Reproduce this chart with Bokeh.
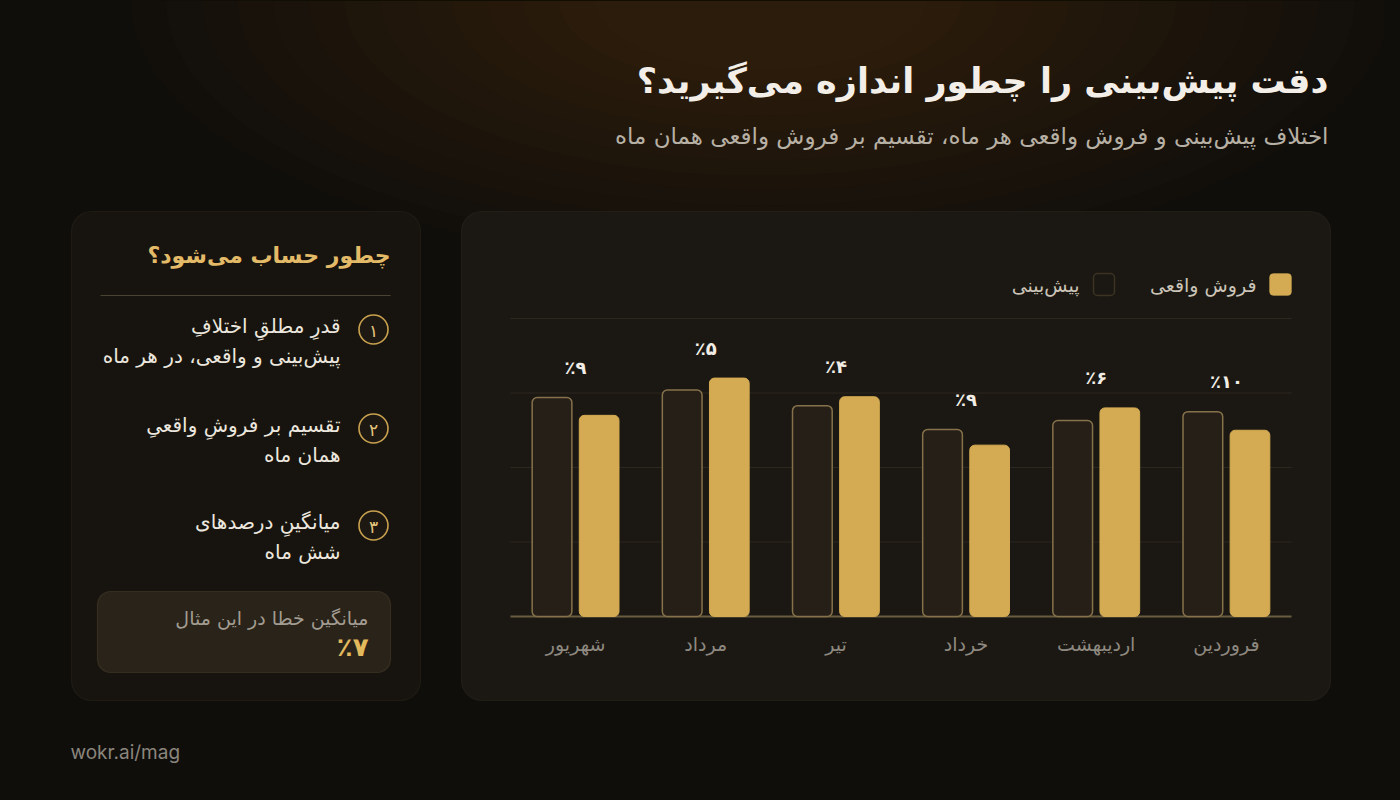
from bokeh.plotting import figure
from bokeh.models import Range1d, BoxAnnotation, ColumnDataSource
from bokeh.core.properties import value
from bokeh.transform import dodge
from bokeh.embed import file_html
from bokeh.resources import INLINE

# ---------------- data ----------------
months = ["فروردین", "اردیبهشت", "خرداد", "تیر", "مرداد", "شهریور"]
forecast = [275, 263, 251, 283, 304, 294]
actual = [250, 280, 230, 295, 320, 270]
error_labels = ["٪۱۰", "٪۶", "٪۹", "٪۴", "٪۵", "٪۹"]
grid_values = [0, 100, 200, 300, 400]
legend_labels = ["فروش واقعی", "پیش‌بینی"]

title = "دقت پیش‌بینی را چطور اندازه می‌گیرید؟"
subtitle = "اختلاف پیش‌بینی و فروش واقعی هر ماه، تقسیم بر فروش واقعی همان ماه"
side_title = "چطور حساب می‌شود؟"
step_numbers = ["۱", "۲", "۳"]
step_line1 = ["قدرِ مطلقِ اختلافِ", "تقسیم بر فروشِ واقعیِ", "میانگینِ درصدهای"]
step_line2 = ["پیش‌بینی و واقعی، در هر ماه", "همان ماه", "شش ماه"]
mean_caption = "میانگین خطا در این مثال"
mean_value = "٪۷"
footer = "wokr.ai/mag"

# ---------------- style ----------------
BG = "#100e0b"
GOLD = "#d4ab52"
FA = value("DejaVu Sans")
W, H = 1384, 784
OFF = 0  # canvas position on the page

p = figure(width=W, height=H, output_backend="svg", toolbar_location=None,
           x_range=Range1d(OFF, OFF + W), y_range=Range1d(OFF + H, OFF),
           x_axis_location=None, y_axis_location=None, min_border=0,
           background_fill_color=BG, border_fill_color=BG, outline_line_color=None)
p.grid.visible = False

# bar chart ranges (page px 510..1291 = 6 categories, right-to-left; value 0 at y=616, 400 at y=318)
n = len(months)
cat_px = (1291 - 510) / n
p.extra_x_ranges = {"bars": Range1d(start=(n - 0.5) + (510 - OFF) / cat_px,
                                    end=-0.5 - (OFF + W - 1291) / cat_px)}
val_px = (616 - 318) / 400
p.extra_y_ranges = {"vals": Range1d(start=-(OFF + H - 616) / val_px,
                                    end=400 + (318 - OFF) / val_px)}

# background glow (many faint layers for a smooth falloff)
for k in range(14):
    f = 1 - k / 14
    p.ellipse(x=760, y=0, width=260 + 1000 * f, height=110 + 420 * f,
              fill_color="#80602e", fill_alpha=0.018, line_color=None, level="image")

# panels
p.add_layout(BoxAnnotation(left=461, right=1330, top=211, bottom=700, border_radius=20,
                           fill_color="#1b1813", fill_alpha=1, line_color="#3b3428",
                           line_width=1.2, level="underlay"))
p.add_layout(BoxAnnotation(left=71, right=420, top=211, bottom=700, border_radius=20,
                           fill_color="#17140f", fill_alpha=1, line_color="#3b3428",
                           line_width=1.2, level="underlay"))
p.add_layout(BoxAnnotation(left=97, right=390, top=591, bottom=672, border_radius=13,
                           fill_color="#29231a", fill_alpha=1, line_color="#6a5a3b",
                           line_width=1.2, level="underlay"))

# title / subtitle
p.text(x=[1328], y=[80], text=[title], text_font=FA, text_font_size="35px",
       text_font_style="bold", text_color="#f3efe8", text_align="right", text_baseline="middle")
p.text(x=[1328], y=[135], text=[subtitle], text_font=FA, text_font_size="23px",
       text_color="#b7b0a4", text_align="right", text_baseline="middle")

# grid lines + baseline
gx0 = [-0.5] * len(grid_values)
gx1 = [n - 0.5] * len(grid_values)
p.segment(x0=gx0[1:], x1=gx1[1:], y0=grid_values[1:], y1=grid_values[1:],
          line_color="#2c271f", line_width=1, x_range_name="bars", y_range_name="vals")
p.segment(x0=gx0[:1], x1=gx1[:1], y0=grid_values[:1], y1=grid_values[:1],
          line_color="#6a5c3f", line_width=2, x_range_name="bars", y_range_name="vals")

# bars
idx = list(range(n))
src = ColumnDataSource(dict(x=idx, months=months, forecast=forecast, actual=actual,
                            top=[max(a, b) for a, b in zip(forecast, actual)],
                            err=error_labels))
p.vbar(x=dodge("x", 0.181, range=p.extra_x_ranges["bars"]), top="forecast", width=0.305,
       source=src, fill_color="#261f18", line_color="#86724a", line_width=1.5,
       border_radius=5, x_range_name="bars", y_range_name="vals")
p.vbar(x=dodge("x", -0.181, range=p.extra_x_ranges["bars"]), top="actual", width=0.305,
       source=src, fill_color=GOLD, line_color=GOLD, line_width=1,
       border_radius=5, x_range_name="bars", y_range_name="vals")

# percent labels
p.text(x="x", y="top", text="err", source=src, y_offset=-30, text_font=FA,
       text_font_size="18px", text_font_style="bold", text_color="#f1ede5",
       text_align="center", text_baseline="middle", x_range_name="bars", y_range_name="vals")
# month labels
zeros = [0] * n
p.text(x=idx, y=zeros, text=months, y_offset=27, text_font=FA, text_font_size="19px",
       text_color="#8e8980", text_align="center", text_baseline="middle",
       x_range_name="bars", y_range_name="vals")

# legend
p.add_layout(BoxAnnotation(left=1269, right=1291, top=273, bottom=295, border_radius=4,
                           fill_color=GOLD, fill_alpha=1, line_color=GOLD))
p.add_layout(BoxAnnotation(left=1093, right=1114, top=273, bottom=295, border_radius=4,
                           fill_color="#1b1813", fill_alpha=1, line_color="#8a7548",
                           line_width=1.5))
p.text(x=[1256, 1079], y=[284, 284], text=legend_labels, text_font=FA,
       text_font_size="19px", text_color="#cbc4b8", text_align="right", text_baseline="middle")

# left panel contents
p.text(x=[390], y=[255], text=[side_title], text_font=FA, text_font_size="22px",
       text_font_style="bold", text_color="#e3bb68", text_align="right", text_baseline="middle")
p.segment(x0=[100], x1=[390], y0=[295], y1=[295], line_color="#4a4232", line_width=1)

step_y = [329, 428, 525]
p.scatter(x=[373] * 3, y=step_y, size=29, marker="circle", fill_color="#1d1912",
          line_color="#caa24f", line_width=1.6)
p.text(x=[373] * 3, y=[v + 1 for v in step_y], text=step_numbers, text_font=FA,
       text_font_size="17px", text_color="#e6c67d", text_align="center", text_baseline="middle")
p.text(x=[340] * 3, y=[v - 4 for v in step_y], text=step_line1, text_font=FA,
       text_font_size="20px", text_color="#ece7de", text_align="right", text_baseline="middle")
p.text(x=[340] * 3, y=[v + 26 for v in step_y], text=step_line2, text_font=FA,
       text_font_size="20px", text_color="#ece7de", text_align="right", text_baseline="middle")

p.text(x=[368], y=[617], text=[mean_caption], text_font=FA, text_font_size="19px",
       text_color="#a29c91", text_align="right", text_baseline="middle")
p.text(x=[368], y=[646], text=[mean_value], text_font=FA, text_font_size="26px",
       text_font_style="bold", text_color="#e2b95c", text_align="right", text_baseline="middle")

# footer
p.text(x=[70], y=[752], text=[footer], text_font=value("Inter"), text_font_size="19px",
       text_color="#8a857d", text_align="left", text_baseline="middle")

html = file_html(p, INLINE)
html = html.replace("<head>", "<head><style>html,body{background:#100e0b;}</style>", 1)
open("out.html", "w").write(html)
